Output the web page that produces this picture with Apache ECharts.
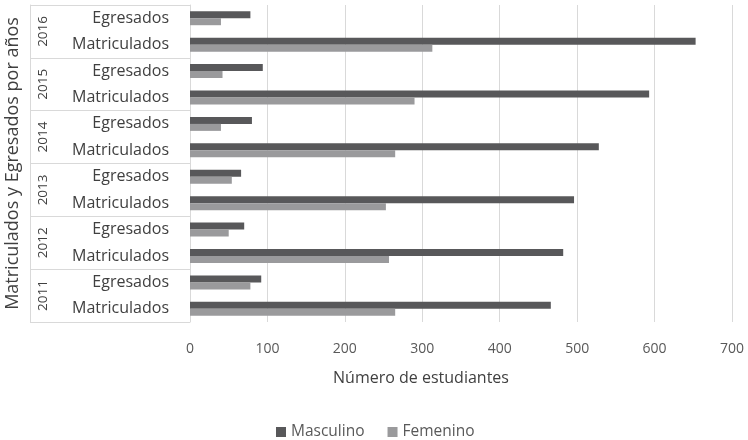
<!DOCTYPE html>
<html>
<head>
<meta charset="utf-8">
<script src="https://cdn.jsdelivr.net/npm/echarts@6/dist/echarts.min.js"></script>
<style>
html,body{margin:0;padding:0;background:#fff;}
#chart{width:748px;height:440px;}
</style>
</head>
<body>
<div id="chart"></div>
<script>
// Categories listed top to bottom
var years = ['2016', '2015', '2014', '2013', '2012', '2011'];
var subCategories = ['Egresados', 'Matriculados'];
var categories = [
  'Egresados', 'Matriculados',
  'Egresados', 'Matriculados',
  'Egresados', 'Matriculados',
  'Egresados', 'Matriculados',
  'Egresados', 'Matriculados',
  'Egresados', 'Matriculados'
];
var masculino = [78, 653, 94, 593, 80, 528, 66, 496, 70, 482, 92, 466];
var femenino  = [40, 313, 42, 290, 40, 265, 54, 253, 50, 257, 78, 265];
var seriesNames = ['Masculino', 'Femenino'];
var xTitle = 'Número de estudiantes';
var yTitle = 'Matriculados y Egresados por años';

var FONT = '"Open Sans", "Noto Sans", sans-serif';
var TXT = '#404040';
var LINE = '#d9d9d9';

var chart = echarts.init(document.getElementById('chart'));
chart.setOption({
  animation: false,
  textStyle: { fontFamily: FONT },
  grid: { left: 190, right: 16, top: 5, bottom: 118, containLabel: false, outerBoundsMode: 'none' },
  legend: {
    data: seriesNames,
    left: 271, top: 419,
    itemWidth: 10, itemHeight: 10, itemGap: 23,
    icon: 'rect',
    textStyle: { fontFamily: FONT, fontSize: 15.5, color: '#595959' }
  },
  xAxis: {
    type: 'value', min: 0, max: 700, interval: 100,
    name: xTitle, nameLocation: 'middle', nameGap: 48,
    nameTextStyle: { fontFamily: FONT, fontSize: 16, color: TXT, padding: [0, 80, 0, 0] },
    axisLine: { show: false }, axisTick: { show: false },
    axisLabel: { fontFamily: FONT, fontSize: 14, color: '#595959', margin: 20 },
    splitLine: { show: true, lineStyle: { color: LINE, width: 1 } }
  },
  yAxis: [
    {
      type: 'category', data: categories, inverse: true,
      axisLine: { show: true, lineStyle: { color: LINE } },
      axisTick: { show: false },
      axisLabel: { fontFamily: FONT, fontSize: 16, color: TXT, margin: 21 }
    },
    {
      type: 'category', data: years, inverse: true, position: 'left', offset: 160,
      name: yTitle, nameLocation: 'middle', nameGap: 6, nameRotate: 90,
      nameTextStyle: { fontFamily: FONT, fontSize: 18, color: TXT },
      axisLine: { show: true, lineStyle: { color: LINE } },
      axisTick: { show: true, inside: true, length: 160, lineStyle: { color: LINE } },
      axisLabel: { inside: true, rotate: 90, fontFamily: FONT, fontSize: 13.5, color: TXT, margin: 6 }
    }
  ],
  series: [
    {
      name: seriesNames[0], type: 'bar', yAxisIndex: 0, data: masculino,
      barWidth: 7, barGap: '0%',
      itemStyle: { color: '#58585a' }
    },
    {
      name: seriesNames[1], type: 'bar', yAxisIndex: 0, data: femenino,
      barWidth: 7, barGap: '0%',
      itemStyle: { color: '#9a9a9c' }
    }
  ]
});
</script>
</body>
</html>
